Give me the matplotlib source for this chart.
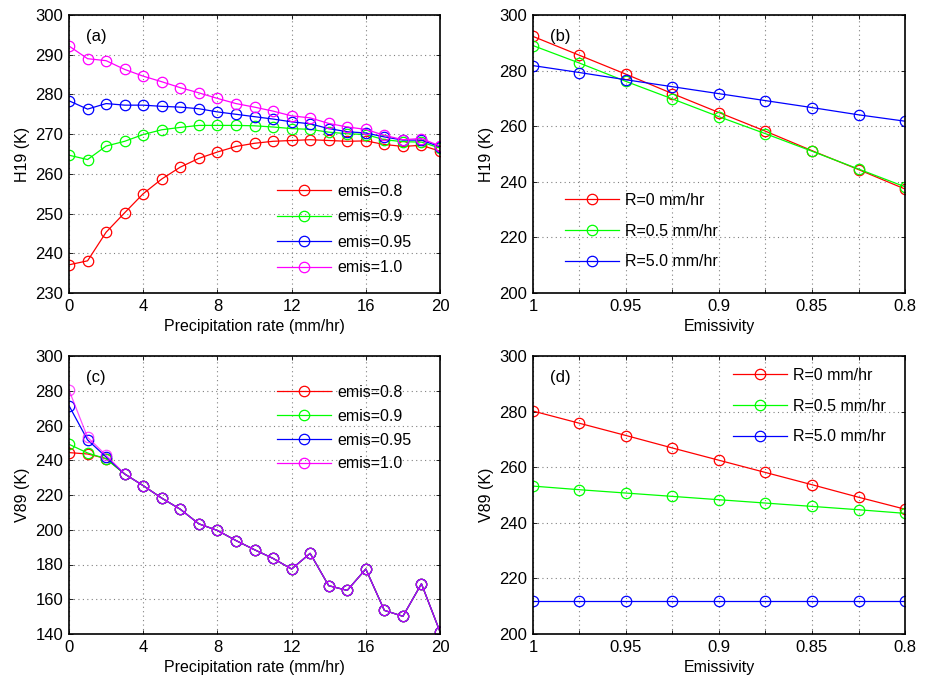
import numpy as np
import matplotlib
matplotlib.use("Agg")
import matplotlib.pyplot as plt

plt.rcParams["font.family"] = ["Liberation Sans", "DejaVu Sans"]
plt.rcParams["font.size"] = 11.5

# ---------------- data ----------------
rain = np.arange(0, 21)
emis = [1.0, 0.975, 0.95, 0.925, 0.9, 0.875, 0.85, 0.825, 0.8]

emis_labels = ["emis=0.8", "emis=0.9", "emis=0.95", "emis=1.0"]
rate_labels = ["R=0 mm/hr", "R=0.5 mm/hr", "R=5.0 mm/hr"]
colors4 = ["#ff0000", "#00ff00", "#0000ff", "#ff00ff"]
colors3 = ["#ff0000", "#00ff00", "#0000ff"]

# (a) H19 vs rain rate
h19_e08 = [237.1, 238.1, 245.3, 250.2, 255.0, 258.7, 261.7, 263.9, 265.5, 266.9, 267.7,
           268.2, 268.4, 268.6, 268.4, 268.2, 268.3, 267.4, 266.9, 267.2, 265.7]
h19_e09 = [264.7, 263.6, 267.0, 268.2, 269.9, 271.1, 271.7, 272.2, 272.2, 272.2, 272.1,
           271.8, 271.4, 271.2, 270.5, 270.1, 269.9, 268.6, 268.1, 268.0, 266.5]
h19_e095 = [278.4, 276.3, 277.7, 277.3, 277.3, 277.0, 276.8, 276.4, 275.6, 275.0, 274.4,
            273.8, 273.1, 272.6, 271.4, 270.6, 270.3, 269.3, 268.5, 268.5, 266.8]
h19_e10 = [292.2, 289.0, 288.5, 286.3, 284.6, 283.2, 281.7, 280.4, 279.0, 277.7, 276.8,
           275.8, 274.6, 274.1, 272.7, 271.8, 271.2, 269.7, 268.6, 268.9, 267.0]

# (b) H19 vs emissivity
h19_r0 = [292.3, 285.5, 278.7, 271.7, 264.9, 258.2, 251.2, 244.4, 237.4]
h19_r05 = [289.0, 282.7, 276.1, 269.8, 263.4, 257.3, 251.0, 244.6, 238.2]
h19_r5 = [281.8, 279.3, 276.7, 274.2, 271.7, 269.2, 266.7, 264.1, 261.8]

# (c) V89 vs rain rate (all curves identical from 3 mm/hr on)
v89_tail = [232.1, 225.4, 218.2, 211.8, 203.4, 199.6, 193.8, 188.5, 183.5, 177.4,
            186.4, 167.8, 165.1, 177.4, 153.6, 150.2, 168.9, 141.3]
v89_e08 = [244.4, 243.6, 241.0] + v89_tail
v89_e09 = [249.2, 244.2, 240.8] + v89_tail
v89_e095 = [271.4, 251.7, 241.9] + v89_tail
v89_e10 = [280.4, 253.2, 242.9] + v89_tail

# (d) V89 vs emissivity
v89_r0 = [280.2, 275.8, 271.4, 266.9, 262.5, 258.1, 253.7, 249.2, 244.9]
v89_r05 = [253.2, 251.9, 250.7, 249.5, 248.3, 247.1, 245.9, 244.7, 243.4]
v89_r5 = [212.0] * 9

W, H = 925, 679
fig = plt.figure(figsize=(W / 100, H / 100), dpi=100)

def make_ax(x0, y0, x1, y1):
    return fig.add_axes([x0 / W, 1 - y1 / H, (x1 - x0) / W, (y1 - y0) / H])

ax_a = make_ax(69, 15, 440, 293)
ax_b = make_ax(533, 15, 905, 293)
ax_c = make_ax(69, 356, 440, 634)
ax_d = make_ax(533, 356, 905, 634)

mk = dict(marker="o", markerfacecolor="none", markersize=7.5, lw=0.9, mew=0.9)
leg_kw = dict(frameon=False, handlelength=3.4, handletextpad=0.35, fontsize=11.5,
              borderaxespad=0.0, borderpad=0.0)

def style(ax):
    ax.tick_params(direction="in", top=True, right=True, length=3, width=0.6,
                   labelsize=12, pad=4)
    ax.grid(True, linestyle=(0, (1, 3)), color="0.5", lw=0.8)
    for s in ax.spines.values():
        s.set_linewidth(1.2)

# ---- (a)
for y, c, lab in zip([h19_e08, h19_e09, h19_e095, h19_e10], colors4, emis_labels):
    ax_a.plot(rain, y, color=c, label=lab, **mk)
ax_a.set_xlim(0, 20)
ax_a.set_ylim(230, 300)
ax_a.set_xticks(range(0, 21, 4))
ax_a.set_ylabel("H19 (K)")
ax_a.set_xlabel("Precipitation rate (mm/hr)", labelpad=4)
ax_a.legend(loc="upper left", bbox_to_anchor=(208 / 371, 1 - 169 / 278), labelspacing=0.65, **leg_kw)
ax_a.text(0.045, 0.95, "(a)", transform=ax_a.transAxes, va="top", fontsize=12)

# ---- (c)
for i, (y, c, lab) in enumerate(zip([v89_e08, v89_e09, v89_e095, v89_e10], colors4, emis_labels)):
    ax_c.plot(rain, y, color=c, label=lab, alpha=0.7 if i == 3 else 1.0, **mk)
ax_c.set_xlim(0, 20)
ax_c.set_ylim(140, 300)
ax_c.set_xticks(range(0, 21, 4))
ax_c.set_ylabel("V89 (K)")
ax_c.set_xlabel("Precipitation rate (mm/hr)", labelpad=4)
leg = ax_c.legend(loc="upper left", bbox_to_anchor=(208 / 371, 1 - 29 / 278), labelspacing=0.55, **leg_kw)
for h in leg.legend_handles:
    h.set_alpha(1.0)
ax_c.text(0.045, 0.95, "(c)", transform=ax_c.transAxes, va="top", fontsize=12)

# ---- (b) and (d)
emis_ticks = [1.0, 0.975, 0.95, 0.925, 0.9, 0.875, 0.85, 0.825, 0.8]
emis_ticklabels = ["1", "", "0.95", "", "0.9", "", "0.85", "", "0.8"]

for y, c, lab in zip([h19_r0, h19_r05, h19_r5], colors3, rate_labels):
    ax_b.plot(emis, y, color=c, label=lab, **mk)
ax_b.set_ylim(200, 300)
ax_b.set_ylabel("H19 (K)")
ax_b.legend(loc="upper left", bbox_to_anchor=(32 / 372, 1 - 178 / 278), labelspacing=0.98, **leg_kw)
ax_b.text(0.045, 0.95, "(b)", transform=ax_b.transAxes, va="top", fontsize=12)

for y, c, lab in zip([v89_r0, v89_r05, v89_r5], colors3, rate_labels):
    ax_d.plot(emis, y, color=c, label=lab, **mk)
ax_d.set_ylim(200, 300)
ax_d.set_ylabel("V89 (K)")
ax_d.legend(loc="upper left", bbox_to_anchor=(200 / 372, 1 - 12 / 278), labelspacing=0.98, **leg_kw)
ax_d.text(0.045, 0.95, "(d)", transform=ax_d.transAxes, va="top", fontsize=12)

for ax in (ax_b, ax_d):
    ax.set_xlim(1.0, 0.8)
    ax.set_xticks(emis_ticks)
    ax.set_xticklabels(emis_ticklabels)
    ax.set_xlabel("Emissivity", labelpad=4)

for ax in (ax_a, ax_b, ax_c, ax_d):
    style(ax)

fig.savefig("out.png", dpi=100)
